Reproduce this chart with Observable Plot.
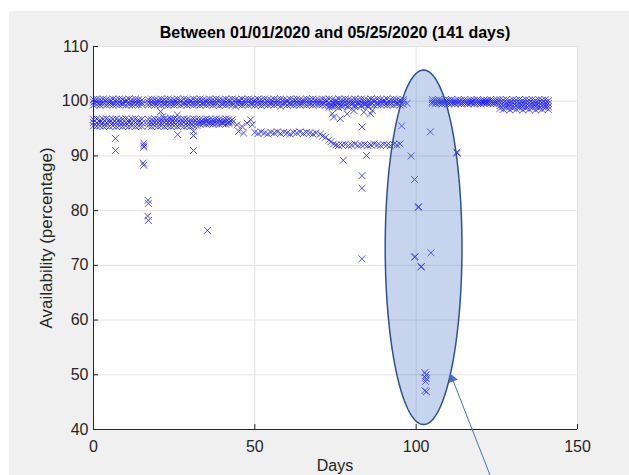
<!DOCTYPE html>
<html><head><meta charset="utf-8">
<script src="https://cdn.jsdelivr.net/npm/d3@7"></script>
<script src="https://cdn.jsdelivr.net/npm/@observablehq/plot@0.6"></script>
<style>
body{margin:0;background:#fff;}
#fig{position:relative;width:629px;height:475px;overflow:hidden;font-family:"Liberation Sans",Arial,Helvetica,sans-serif;}
#bg{position:absolute;left:9px;top:11px;right:0;bottom:0;background:#f0f0f0;}
#chart{position:absolute;left:0;top:0;}
#title{position:absolute;left:93px;width:484px;top:24px;line-height:18px;text-align:center;font-weight:bold;font-size:16px;color:#000;}
#xlabel{position:absolute;left:93px;width:484px;top:456px;line-height:20px;text-align:center;font-size:16px;color:#262626;}
#ylabel{position:absolute;left:47px;top:238px;width:300px;margin-left:-150px;line-height:20px;margin-top:-10px;text-align:center;font-size:17px;color:#262626;transform:rotate(-90deg);}
</style></head>
<body>
<div id="fig"><div id="bg"></div><div id="chart"></div>
<div id="title">Between 01/01/2020 and 05/25/2020 (141 days)</div>
<div id="xlabel">Days</div>
<div id="ylabel">Availability (percentage)</div>
</div>
<script>
const xTicks = [0, 50, 100, 150];
const yTicks = [40, 50, 60, 70, 80, 90, 100, 110];

// Upper band (~100 %): [day, readings...]
const topBand = [
[0,100.3,99.8,99.3],[1,100.4,99.9,99.4],[2,100.3,99.7,99.3],[3,100.4,99.8,99.4],[4,100.3,99.9,99.3],[5,100.2,99.8,99.4],
[6,100.4,99.7,99.3],[7,100.3,99.9,99.4],[8,100.4,99.8,99.3],[9,100.3,99.7,99.4],[10,100.2,99.9,99.3],[11,100.4,99.8,99.4],
[12,100.3,99.7,99.3],[13,100.4,99.9,99.4],[14,100.3,99.8,99.3],[15,100.2,99.7,99.4],
[17,100.3,99.8,99.3],[18,100.4,99.9,99.4],[19,100.3,99.7,99.3],[20,100.2,99.8,99.4],[21,100.4,99.9,99.3],[22,100.3,99.7,99.4],
[23,100.4,99.8,99.3],[24,100.3,99.9,99.4],[25,100.2,99.7,99.3],[26,100.4,99.8,99.4],[27,100.3,99.9,99.3],[28,100.4,99.7,99.4],
[29,100.3,99.8,99.3],[30,100.2,99.9,99.4],[31,100.4,99.7,99.3],[32,100.3,99.8,99.4],[33,100.4,99.9,99.3],[34,100.3,99.7,99.4],
[35,100.2,99.8,99.3],[36,100.4,99.9,99.4],[37,100.3,99.7,99.3],[38,100.4,99.8,99.4],[39,100.3,99.9,99.2],[40,100.2,99.7,99.4],
[41,100.4,99.8,99.3],[42,100.3,99.9,99.4],[43,100.4,99.7,99.3],[44,100.3,99.8,99.1],[45,100.2,99.9,99.4],[46,100.4,99.7,99.3],
[47,100.3,99.8,99.4],[48,100.4,99.9,99.3],[49,100.3,99.7,99.4],[50,100.2,99.8,99.3],[51,100.4,99.9,99.4],[52,100.3,99.7,99.2],
[53,100.4,99.8,99.4],[54,100.3,99.9,99.3],[55,100.2,99.7,99.4],[56,100.4,99.8,99.3],[57,100.3,99.9,99.4],[58,100.4,99.7,99.1],
[59,100.3,99.8,99.4],[60,100.2,99.9,99.3],[61,100.4,99.7,99.4],[62,100.3,99.8,99.3],[63,100.4,99.9,99.4],[64,100.3,99.7,99.3],
[65,100.2,99.8,99.4],[66,100.4,99.9,99.3],[67,100.3,99.7,99.4],[68,100.4,99.8,99.3],[69,100.3,99.9,99.4],[70,100.2,99.7,99.3],
[71,100.4,99.8,99.4],[72,100.3,99.9,99.3],[73,100.4,99.7,99.2,98.9],[74,100.3,99.8,99.3,99.0],[75,100.2,99.9,99.4,99.1],
[76,100.4,99.7,99.3,98.8],[77,100.3,99.8,99.4,99.0],[78,100.4,99.9,99.3],[79,100.3,99.7,99.2,98.9],[80,100.2,99.8,99.4],
[81,100.4,99.9,99.3,99.0],[82,100.3,99.7,99.4],[83,100.4,99.8,99.3,99.1],[84,100.3,99.9,99.4],[85,100.2,99.7,99.3,99.0],
[86,100.4,99.8,99.4],[87,100.3,99.9,99.3],[88,100.4,99.7,99.4],[89,100.3,99.8,99.3],[90,100.2,99.9,99.4],[91,100.4,99.7,99.3],
[92,100.3,99.8,99.4],[93,100.4,99.9,99.3],[94,100.3,99.7,99.4],[95,100.2,99.8,99.3],[96,100.3,99.9,99.4],[97.2,99.6],
[105,100.3,99.9,99.6],[106,100.2,99.8,99.5],[107,100.3,99.9,99.6],[108,100.1,99.8,99.5],[109,100.3,99.9,99.6],[110,100.2,99.8,99.5],
[111,100.3,99.9,99.6],[112,100.1,99.8,99.5],[113,100.3,99.9,99.6],[114,100.2,99.8,99.5],[115,100.3,99.9,99.6],[116,100.1,99.8,99.5],
[117,100.3,99.9,99.6,99.8],[118,100.2,99.8,99.5],[119,100.3,99.9,99.6],[120,100.1,99.8,99.5],[121,100.2,99.9,99.8,99.6],
[122,100.2,99.9,99.8,99.6],[123,100.3,99.9,99.6],[124,100.1,99.8,99.5],[125,100.3,99.9,99.6],
[126,100.3,99.8,99.2,98.7],[127,100.2,99.7,99.1,98.5],[128,100.3,99.8,99.3,98.8],[129,100.1,99.6,99.0,98.4],[130,100.3,99.8,99.2,98.7],
[131,100.2,99.7,99.1,98.5],[132,100.3,99.8,99.3,98.8],[133,100.1,99.6,99.0,98.4],[134,100.3,99.8,99.2,98.7],[135,100.2,99.7,99.1,98.5],
[136,100.3,99.8,99.3,98.8],[137,100.1,99.6,99.0,98.4],[138,100.3,99.8,99.2,98.7],[139,100.2,99.7,99.1,98.5],[140,100.3,99.8,99.3,98.8],
[141,100.1,99.6,99.0,98.5]
];

// Lower band (~96 % -> ~94 % -> ~92 %): [day, readings...]
const lowBand = [
[0,96.7,96.1,95.5],[1,96.8,96.0,95.4],[2,96.6,96.2,95.5],[3,96.7,96.0,95.4],[4,96.8,96.1,95.5],[5,96.6,96.2,95.4],
[6,96.7,96.0,95.5],[7,96.8,96.1,95.4],[8,96.6,96.2,95.5],[9,96.7,96.0,95.4],[10,96.8,96.1,95.5],[11,96.6,96.2,95.4],
[12,96.7,96.0,95.5],[13,96.8,96.1,95.4],[14,96.6,96.2,95.5],[15,96.7,96.0,95.4],
[17,96.7,96.1,95.5],[18,96.6,96.0,95.4],[19,96.8,96.2,95.5],[20,96.7,96.1,95.4],[21,96.6,96.0,95.5],[22,96.8,96.2,95.4],
[23,96.7,96.1,95.5],[24,96.6,96.0,95.4],[25,96.8,96.2,95.5],[26,96.7,96.1,95.4],[27,96.6,96.0,95.5],[28,96.8,96.2,95.4],
[29,96.7,96.1,95.5],[30,96.6,96.0,95.4],[31,96.8,96.2,95.5],[32,96.7,96.1,95.6],
[33,96.7,96.2,95.8],[34,96.6,96.1,95.9],[35,96.8,96.3,95.8],[36,96.7,96.2,95.9],[37,96.6,96.1,95.8],[38,96.8,96.3,95.9],
[39,96.7,96.2,95.8],[40,96.6,96.1,95.9],[41,96.8,96.3,95.8],[42,96.7,96.2,95.9],[43,96.6,96.1],
[44.5,95.7],[45,94.5],[46,95.4],[46.5,94.2],[47.6,96.0],[48.7,96.6],[49.2,95.7],
[50,94.3],[51,94.1],[52,94.4],[53,94.2],[54,94.0],[55,94.3],[56,94.2],[57,94.4],[58,94.1],[59,94.3],
[60,94.2],[61,94.0],[62,94.3],[63,94.2],[64,94.4],[65,94.1],[66,94.3],[67,94.2],[68,94.0],[69,94.2],
[70.3,94.0],[71,93.6],[71.9,93.4],[72.9,92.9],[73.6,92.6],[74.4,92.2],[75.2,92.0],[75.9,91.9],
[77,92.0],[78,92.1],[79,91.9],[80,92.0],[81,92.2],[82,91.9],[83,92.0],[84,92.1],[85,91.9],[86,92.0],
[87,92.2],[88,92.0],[89,91.9],[90,92.1],[91,92.0],[92,91.9],[93,92.1],[94,92.0],[95,92.2]
];

// Isolated readings: [day, value]
const outliers = [
[6.8,93.2],[6.8,91.0],[15.6,92.3],[15.6,91.9],[15.6,91.6],[15.4,88.7],[15.6,88.3],
[16.9,81.9],[17.0,81.3],[16.8,79.0],[17.0,78.2],
[20.8,98.1],[21.5,97.2],[23.9,96.9],[26.0,97.5],[26.1,93.9],[31.0,94.5],[31.0,93.7],[31.0,91.0],
[35.3,76.4],[74.0,97.7],[74.4,97.1],[76.5,96.8],[78.6,97.7],[80.7,98.3],[83.8,98.0],[85.9,97.7],[86.4,98.3],
[77.4,89.2],[83.2,95.3],[84.6,90.1],[83.2,86.4],[83.2,84.1],[83.2,71.2],
[95.5,95.5],[98.4,90.0],[99.5,85.7],[100.6,80.6],[100.8,80.7],[99.5,71.5],[99.7,71.6],[101.5,69.7],[101.6,69.8],[104.6,72.3],
[104.4,94.4],[102.7,50.4],[103.1,50.0],[102.8,49.5],[103.2,49.3],[102.9,48.8],[102.7,47.1],[103.2,46.9],
[112.7,90.5],[112.6,90.7]
];

// Annotation: ellipse (center, radii in data units) and arrow (from -> to)
const ellipseCenter = [102.3, 73.3];
const ellipseRadii = [11.9, 32.4];
const arrowFrom = [123.0, 31.5];
const arrowTo = [110.6, 50.2];

const W = 629, H = 475, mL = 93, mR = 52, mT = 46, mB = 46;
const plotW = W - mL - mR, plotH = H - mT - mB;

const points = [...topBand, ...lowBand].flatMap(([d, ...vs]) => vs.map(v => ({day: d, value: v})))
  .concat(outliers.map(([d, v]) => ({day: d, value: v})));

const ellipsePts = d3.range(0, 361, 3).map(a => ({
  day: ellipseCenter[0] + ellipseRadii[0] * Math.cos(a * Math.PI / 180),
  value: ellipseCenter[1] + ellipseRadii[1] * Math.sin(a * Math.PI / 180)
}));

const xDom = [0, 150], yDom = [40, 110];
const pxdx = (arrowTo[0] - arrowFrom[0]) * plotW / (xDom[1] - xDom[0]);
const pxdy = -(arrowTo[1] - arrowFrom[1]) * plotH / (yDom[1] - yDom[0]);
const ang = Math.atan2(pxdx, -pxdy) * 180 / Math.PI;
const len = Math.hypot(pxdx, pxdy);
const headR = 3.5;
const apex = 2 * Math.sqrt(Math.PI * headR * headR / (Math.sqrt(3) * 3));
const headDx = -pxdx / len * apex, headDy = -pxdy / len * apex;

const gridC = "#e2e2e2", axisC = "#262626";

const chart = Plot.plot({
  width: W, height: H,
  marginLeft: mL, marginRight: mR, marginTop: mT, marginBottom: mB,
  style: {background: "transparent", overflow: "visible", fontFamily: '"Liberation Sans", Arial, sans-serif', fontSize: "16px"},
  x: {domain: xDom, ticks: xTicks},
  y: {domain: yDom, ticks: yTicks},
  marks: [
    Plot.frame({fill: "white", stroke: null}),
    Plot.ruleX(xTicks, {stroke: gridC, strokeWidth: 1}),
    Plot.ruleY(yTicks, {stroke: gridC, strokeWidth: 1}),
    Plot.ruleX(xTicks, {stroke: axisC, insetTop: plotH - 5}),
    Plot.ruleY(yTicks, {stroke: axisC, insetRight: plotW - 5}),
    Plot.ruleX([xDom[0]], {stroke: axisC}),
    Plot.ruleY([yDom[0]], {stroke: axisC}),
    Plot.axisX({ticks: xTicks, tickSize: 0, tickPadding: 11, fill: axisC, fontSize: 16, label: null}),
    Plot.axisY({ticks: yTicks, tickSize: 0, tickPadding: 5, fill: axisC, fontSize: 16, label: null}),
    Plot.dot(points, {x: "day", y: "value", symbol: "times", r: 3.2, stroke: "#1f1fff", strokeWidth: 1, strokeOpacity: 0.8}),
    Plot.line(ellipsePts, {x: "day", y: "value", curve: "linear-closed", fill: "#4472c4", fillOpacity: 0.3, stroke: "#2f528f", strokeWidth: 1.5}),
    Plot.link([0], {x1: () => arrowFrom[0], y1: () => arrowFrom[1], x2: () => arrowTo[0], y2: () => arrowTo[1], stroke: "#4472c4", strokeWidth: 1}),
    Plot.dot([0], {x: () => arrowTo[0], y: () => arrowTo[1], symbol: "triangle", r: headR, rotate: ang, fill: "#4472c4", stroke: null, dx: headDx, dy: headDy})
  ]
});
document.getElementById("chart").appendChild(chart);
</script>
</body></html>
